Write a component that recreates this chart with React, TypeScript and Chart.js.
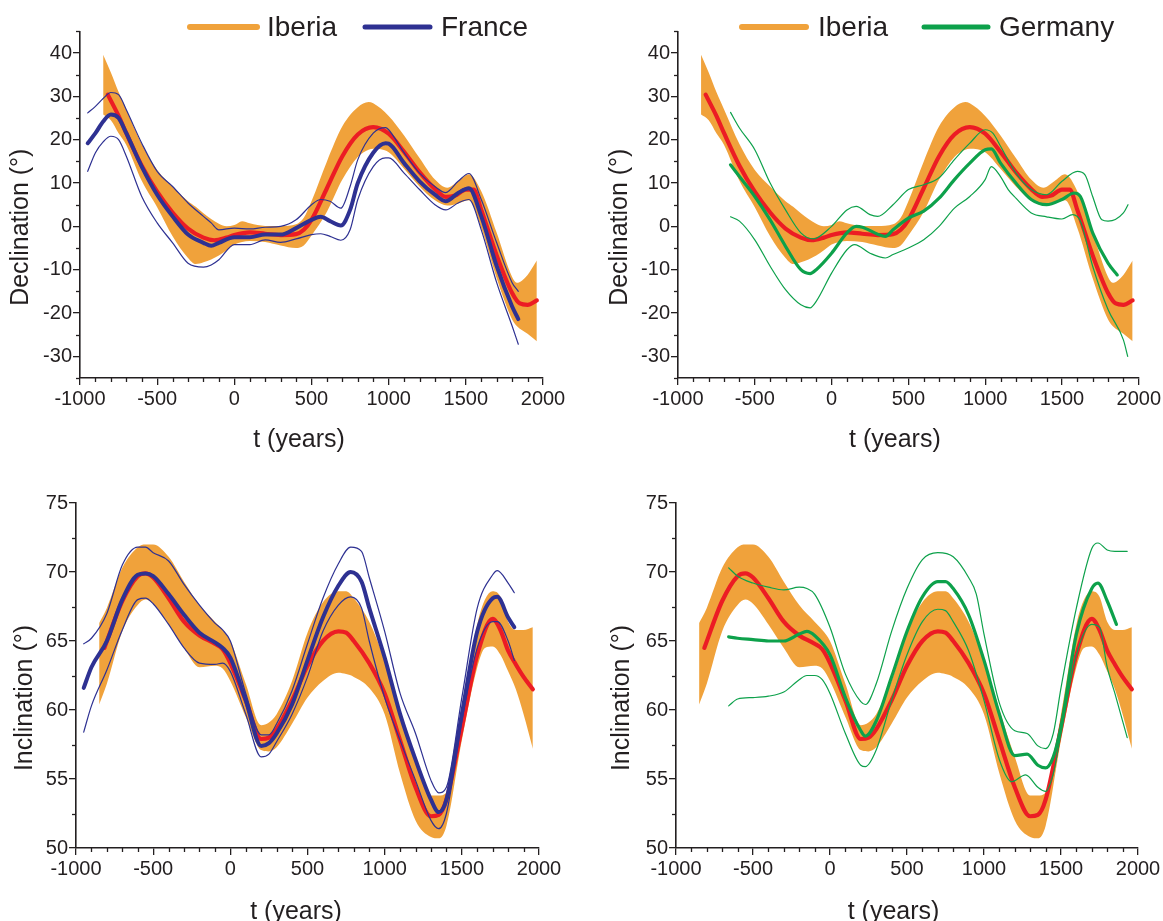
import React, { useEffect, useRef } from 'react';
import { Chart, registerables } from 'chart.js';

Chart.register(...registerables);

const ORANGE = '#F0A23B';
const RED = '#EC1C24';
const BLUE = '#2E3192';
const GREEN = '#0DA14B';
const INK = '#231F20';
const FONT = "'Liberation Sans', Arial, Helvetica, sans-serif";

// ---- tick labels ----
const YEAR_TICKS = [-1000, -500, 0, 500, 1000, 1500, 2000];
const DEC_TICKS = [-30, -20, -10, 0, 10, 20, 30, 40];
const INC_TICKS = [50, 55, 60, 65, 70, 75];

// ---- Iberia declination (band + mean) ----
const IBERIA_DEC_BAND_T = [-850, -800, -750, -700, -600, -500, -400, -300, -250, -200, -100, -50, 0, 50, 100, 200, 300, 400, 450, 500, 600, 700, 800, 870, 900, 1000, 1100, 1200, 1300, 1380, 1450, 1520, 1600, 1700, 1800, 1830, 1900, 1960];
const IBERIA_DEC_UPPER = [39.6, 35.5, 31, 27, 19, 13, 9.2, 5.8, 4.5, 3, 0.6, 0, 0.3, 1.2, 0.7, 0.1, 0.1, 0.5, 2, 5.8, 15, 23.1, 27.5, 28.7, 28.4, 25.5, 21, 15.8, 10.8, 8.9, 10.4, 12, 8.1, -1.5, -11.7, -13, -11.2, -7.9];
const IBERIA_DEC_LOWER = [25.8, 24.5, 21.5, 18.8, 10.5, 4.4, -2.3, -7.3, -8.7, -8.3, -6.7, -5.5, -4.2, -3.6, -3.4, -3.6, -4.4, -5, -4.4, -2.1, 3.4, 10.8, 16, 17.7, 17.9, 17.1, 13.3, 9.2, 6, 4.8, 5.3, 6, -0.4, -12, -21.5, -23, -24.8, -26.5];
const IBERIA_DEC_T = [-820, -750, -700, -600, -500, -400, -300, -200, -130, -50, 0, 100, 200, 300, 400, 450, 500, 600, 700, 800, 900, 1000, 1100, 1200, 1300, 1370, 1430, 1500, 1550, 1600, 1700, 1800, 1850, 1900, 1960];
const IBERIA_DEC = [30.4, 25.5, 21.5, 14, 8, 3.2, -0.5, -2.6, -3.2, -2.6, -2, -1.4, -1.7, -2, -1.8, -0.8, 1.5, 8.8, 16.2, 21.2, 22.9, 21.4, 17.2, 12.5, 8.6, 6.8, 7.1, 8.5, 8.5, 3.8, -6.7, -15.4, -17.8, -18.1, -17.1];

// ---- France declination ----
const FRANCE_DEC_T = [-950, -900, -850, -800, -750, -700, -600, -500, -400, -300, -200, -150, -100, 0, 100, 200, 300, 400, 500, 560, 620, 690, 750, 800, 900, 980, 1000, 1100, 1200, 1300, 1370, 1450, 1520, 1600, 1700, 1800, 1840];
const FRANCE_DEC = [19.2, 21.5, 24.2, 25.8, 25, 21.5, 13.8, 7.3, 2.3, -1.9, -3.8, -4.5, -3.8, -2.5, -2.5, -1.9, -1.9, -0.4, 1.5, 2.2, 1.2, 0.2, 3.8, 10, 17, 19.2, 19.1, 14.6, 10.4, 7.3, 5.8, 7.7, 8.8, 2.3, -9.2, -18.5, -21.4];
const FRANCE_DEC_UPPER = [26.2, 27.7, 29.5, 30.9, 30.4, 26.9, 19.2, 12.7, 9.2, 5.4, 2.3, 0.8, -0.8, -0.4, -0.6, -0.2, 0, 1.5, 5, 6.2, 5.8, 4.2, 9.2, 15.4, 21.5, 22.8, 22.3, 17, 12.3, 9.2, 7.8, 10.4, 12.2, 6.2, -3.8, -13, -15];
const FRANCE_DEC_LOWER = [12.7, 17, 19.5, 20.8, 20, 16.2, 6.9, 0.8, -3.8, -8.5, -9.4, -8.9, -7.7, -4.2, -4.2, -3.1, -3.7, -2.9, -1.9, -1.7, -2.3, -3.2, -0.8, 6.2, 13.8, 15.8, 15.8, 12.3, 8.5, 5, 3.8, 5.4, 6.2, -0.8, -13, -23, -27.2];

// ---- Germany declination ----
const GERMANY_DEC_T = [-658, -600, -500, -400, -300, -200, -140, -100, 0, 100, 160, 200, 300, 350, 400, 500, 600, 700, 800, 900, 1000, 1040, 1100, 1200, 1300, 1400, 1500, 1580, 1620, 1700, 1800, 1860];
const GERMANY_DEC = [14.2, 11.5, 6.9, 1.5, -4.6, -10, -10.9, -10, -6.2, -1.5, 0, -0.2, -1.8, -2.3, -0.8, 1.9, 3.5, 6.5, 10.8, 14.6, 17.7, 17.9, 14.6, 10, 6.2, 5, 6.2, 7.7, 6.9, -1.5, -8.5, -11.2];
const GERMANY_DEC_UP_T = [-658, -600, -500, -400, -300, -200, -120, 0, 100, 160, 250, 300, 400, 500, 600, 700, 800, 900, 1000, 1050, 1100, 1200, 1300, 1400, 1500, 1600, 1650, 1700, 1760, 1800, 1900, 1930];
const GERMANY_DEC_UPPER = [26.3, 22.7, 17.7, 10, 3.8, -1.5, -2.9, 0, 3.8, 4.6, 2.7, 2.3, 5, 8.5, 9.6, 11.2, 15.4, 19.2, 22.3, 21.5, 18.5, 12.3, 8.5, 7.3, 10.4, 12.7, 11.9, 6.9, 1.5, 1.2, 3.1, 5];
const GERMANY_DEC_LO_T = [-658, -600, -500, -400, -300, -200, -140, -100, 0, 100, 150, 250, 350, 400, 500, 600, 700, 800, 900, 1000, 1040, 1100, 1150, 1200, 1300, 1400, 1500, 1570, 1620, 1700, 1800, 1900, 1928];
const GERMANY_DEC_LOWER = [2.2, 1.2, -3.1, -9.2, -14.6, -18.1, -18.8, -17.3, -10.8, -5.4, -4.2, -6.2, -7.3, -6.5, -5, -3.1, 0, 4.2, 6.9, 10.8, 13.8, 11.5, 8.5, 6.5, 3.1, 2.2, 1.7, 2.7, 1.2, -9.2, -19.2, -26.2, -30];

// ---- Iberia inclination (band + mean) ----
const IBERIA_INC_BAND_T = [-850, -800, -700, -600, -550, -500, -400, -300, -200, -100, -50, 0, 100, 200, 250, 300, 400, 500, 600, 700, 750, 800, 900, 1000, 1100, 1200, 1300, 1350, 1400, 1500, 1600, 1650, 1700, 1750, 1800, 1850, 1900, 1960];
const IBERIA_INC_UPPER = [66.3, 67.4, 70.3, 71.8, 72, 72, 71.1, 69.3, 67.6, 66.4, 65.8, 65, 61.9, 58.9, 59.1, 59.7, 62.1, 65.6, 67.8, 68.6, 68.6, 68.1, 66.4, 63.6, 60, 56.6, 53.8, 53.8, 54, 59.7, 66.2, 68, 68.6, 68.2, 66.4, 65.8, 65.8, 66];
const IBERIA_INC_LOWER = [60.4, 61.9, 65.7, 67.6, 68, 67.7, 66.2, 64.5, 63.1, 63.2, 63, 62.1, 59.5, 57.1, 57, 57.3, 59, 60.9, 62.1, 62.7, 62.6, 62.4, 61.6, 59.7, 55.4, 52, 50.8, 50.7, 51.6, 57.8, 63.1, 64.5, 64.6, 64, 62.8, 61.5, 59.7, 57.2];
const IBERIA_INC_T = [-816, -700, -600, -550, -500, -400, -300, -200, -100, -50, 0, 100, 200, 250, 300, 400, 500, 600, 700, 750, 800, 900, 1000, 1100, 1200, 1300, 1350, 1400, 1500, 1600, 1700, 1750, 1800, 1850, 1900, 1960];
const IBERIA_INC = [64.5, 67.9, 69.7, 69.9, 69.6, 68.1, 66.4, 65.4, 64.8, 64.4, 63.4, 60.7, 57.9, 58, 58.6, 60.7, 63.2, 65, 65.7, 65.6, 65, 63.4, 61.2, 57.8, 54.4, 52.3, 52.4, 53.5, 58.7, 64, 66.6, 65.8, 64.3, 63.3, 62.4, 61.5];

// ---- France inclination ----
const FRANCE_INC_T = [-950, -900, -800, -700, -600, -550, -500, -400, -300, -200, -100, -50, 0, 100, 200, 250, 300, 400, 500, 600, 700, 780, 850, 900, 1000, 1100, 1200, 1300, 1350, 1400, 1500, 1600, 1700, 1730, 1800, 1840];
const FRANCE_INC = [61.6, 63.1, 65, 68, 69.8, 69.9, 69.7, 68.4, 66.9, 65.6, 64.9, 64.5, 63.8, 60.7, 57.4, 57.6, 58.3, 60.4, 63.6, 66.7, 69, 70, 69.3, 67.4, 63.8, 59.7, 56.4, 53.5, 52.6, 53.5, 59.7, 65.7, 68.1, 68.2, 66.7, 66];
const FRANCE_INC_UPPER = [64.8, 65.2, 67, 70.5, 71.8, 71.8, 71.4, 70.8, 69.1, 67.6, 66.3, 65.8, 65, 61.2, 58.2, 58.2, 59, 61.4, 64.8, 68.1, 70.6, 71.8, 71.5, 69.6, 65.7, 61.2, 58.3, 54.9, 54, 54.4, 60.9, 67.4, 69.8, 70.1, 69.2, 68.5];
const FRANCE_INC_LOWER = [58.4, 60.3, 62.9, 65.8, 68, 68.1, 67.7, 66.2, 64.5, 63.4, 63.3, 63.4, 62.8, 59.7, 56.6, 56.8, 57.7, 59.7, 62.4, 65.7, 67.6, 68.2, 67.4, 65, 60.9, 57.8, 54.9, 52, 51.4, 52.5, 59.2, 64.5, 66.4, 66.4, 65, 63.6];

// ---- Germany inclination ----
const GERMANY_INC_T = [-658, -600, -500, -400, -300, -200, -150, -100, 0, 100, 200, 230, 300, 400, 500, 600, 700, 750, 800, 900, 1000, 1100, 1200, 1280, 1350, 1400, 1450, 1500, 1600, 1700, 1740, 1800, 1860];
const GERMANY_INC = [65.3, 65.2, 65.1, 65, 65, 65.5, 65.7, 65.4, 64, 60.9, 58.5, 58.1, 59.2, 62.4, 65.7, 68.2, 69.3, 69.3, 68.8, 66.9, 63.6, 59.7, 56.7, 56.8, 56, 55.8, 56.6, 58.8, 65.5, 68.8, 69.2, 67.9, 66.2];
const GERMANY_INC_UP_T = [-658, -600, -500, -400, -300, -200, -150, -100, 0, 100, 200, 230, 300, 400, 500, 600, 700, 800, 900, 950, 1000, 1100, 1200, 1280, 1350, 1400, 1450, 1500, 1600, 1700, 1740, 1800, 1850, 1930];
const GERMANY_INC_UPPER = [70.3, 69.7, 69.2, 68.9, 68.7, 68.9, 68.8, 68.4, 66, 62.6, 60.6, 60.4, 61.9, 65.7, 68.8, 70.9, 71.4, 71.1, 69.6, 68.4, 65.5, 60.5, 58.5, 58.3, 57.4, 57.2, 58.3, 61.6, 67.4, 71.7, 72.1, 71.6, 71.5, 71.5];
const GERMANY_INC_LO_T = [-658, -600, -500, -400, -300, -200, -150, -100, -50, 0, 100, 200, 230, 300, 400, 500, 600, 700, 750, 800, 900, 1000, 1100, 1180, 1270, 1350, 1400, 1450, 1500, 1600, 1700, 1750, 1800, 1850, 1930];
const GERMANY_INC_LOWER = [60.3, 60.8, 60.9, 61, 61.3, 62.2, 62.5, 62.5, 62.2, 61.2, 58.3, 56, 55.9, 57.1, 60.7, 64, 66.4, 67.3, 67.2, 66.4, 64.3, 60.7, 56.4, 54.8, 55.3, 54.4, 54.1, 55.4, 58.3, 64, 66.2, 66, 63.1, 61.2, 58];

const pts = (t: number[], v: number[]) => t.map((x, i) => ({ x, y: v[i] }));

interface LegendItem { label: string; color: string; x0: number; x1: number; tx: number; lw: number }
interface PanelSpec {
  left: number; top: number; w: number; h: number;
  yMin: number; yMax: number; yTicks: number[]; yMinor: number; yTitle: string;
  yAxisWidth: number; padRight: number; padTop: number; xAxisHeight: number;
  yTitleDX: number; yTitleDY: number; xTitleDX: number; xTitleY: number;
  legendY: number; legend: LegendItem[];
  band: { t: number[]; up: number[]; lo: number[] };
  mean: { t: number[]; v: number[] };
  other: { color: string; thick: number; mt: number[]; mv: number[]; ut: number[]; uv: number[]; lt: number[]; lv: number[] };
}

const PANELS: PanelSpec[] = [
  {
    left: 0, top: 0, w: 581, h: 460,
    yMin: -35, yMax: 45, yTicks: DEC_TICKS, yMinor: 5, yTitle: 'Declination (°)',
    yAxisWidth: 80, padRight: 38, padTop: 31.4, xAxisHeight: 82,
    yTitleDX: -59, yTitleDY: 22.5, xTitleDX: -12.5, xTitleY: 440,
    legendY: 27,
    legend: [
      { label: 'Iberia', color: ORANGE, x0: 190, x1: 257, tx: 267, lw: 6 },
      { label: 'France', color: BLUE, x0: 365, x1: 430, tx: 441, lw: 5 },
    ],
    band: { t: IBERIA_DEC_BAND_T, up: IBERIA_DEC_UPPER, lo: IBERIA_DEC_LOWER },
    mean: { t: IBERIA_DEC_T, v: IBERIA_DEC },
    other: { color: BLUE, thick: 4, mt: FRANCE_DEC_T, mv: FRANCE_DEC, ut: FRANCE_DEC_T, uv: FRANCE_DEC_UPPER, lt: FRANCE_DEC_T, lv: FRANCE_DEC_LOWER },
  },
  {
    left: 581, top: 0, w: 582, h: 460,
    yMin: -35, yMax: 45, yTicks: DEC_TICKS, yMinor: 5, yTitle: 'Declination (°)',
    yAxisWidth: 97, padRight: 22, padTop: 31.4, xAxisHeight: 82,
    yTitleDX: -58, yTitleDY: 22.5, xTitleDX: -13.5, xTitleY: 440,
    legendY: 27,
    legend: [
      { label: 'Iberia', color: ORANGE, x0: 161, x1: 225, tx: 237, lw: 6 },
      { label: 'Germany', color: GREEN, x0: 343, x1: 407, tx: 418, lw: 5 },
    ],
    band: { t: IBERIA_DEC_BAND_T, up: IBERIA_DEC_UPPER, lo: IBERIA_DEC_LOWER },
    mean: { t: IBERIA_DEC_T, v: IBERIA_DEC },
    other: { color: GREEN, thick: 3.2, mt: GERMANY_DEC_T, mv: GERMANY_DEC, ut: GERMANY_DEC_UP_T, uv: GERMANY_DEC_UPPER, lt: GERMANY_DEC_LO_T, lv: GERMANY_DEC_LOWER },
  },
  {
    left: 0, top: 460, w: 581, h: 466,
    yMin: 50, yMax: 75, yTicks: INC_TICKS, yMinor: 2.5, yTitle: 'Inclination (°)',
    yAxisWidth: 76, padRight: 42, padTop: 43, xAxisHeight: 78,
    yTitleDX: -51, yTitleDY: 22.5, xTitleDX: -11.5, xTitleY: 452,
    legendY: 0, legend: [],
    band: { t: IBERIA_INC_BAND_T, up: IBERIA_INC_UPPER, lo: IBERIA_INC_LOWER },
    mean: { t: IBERIA_INC_T, v: IBERIA_INC },
    other: { color: BLUE, thick: 4, mt: FRANCE_INC_T, mv: FRANCE_INC, ut: FRANCE_INC_T, uv: FRANCE_INC_UPPER, lt: FRANCE_INC_T, lv: FRANCE_INC_LOWER },
  },
  {
    left: 581, top: 460, w: 582, h: 466,
    yMin: 50, yMax: 75, yTicks: INC_TICKS, yMinor: 2.5, yTitle: 'Inclination (°)',
    yAxisWidth: 95, padRight: 25, padTop: 43, xAxisHeight: 78,
    yTitleDX: -53.5, yTitleDY: 22.5, xTitleDX: -13.5, xTitleY: 452,
    legendY: 0, legend: [],
    band: { t: IBERIA_INC_BAND_T, up: IBERIA_INC_UPPER, lo: IBERIA_INC_LOWER },
    mean: { t: IBERIA_INC_T, v: IBERIA_INC },
    other: { color: GREEN, thick: 3.2, mt: GERMANY_INC_T, mv: GERMANY_INC, ut: GERMANY_INC_UP_T, uv: GERMANY_INC_UPPER, lt: GERMANY_INC_LO_T, lv: GERMANY_INC_LOWER },
  },
];

const decorPlugin = {
  id: 'decor',
  afterDraw(chart: any, _args: any, opts: any) {
    const { ctx, chartArea: ca, scales } = chart;
    const x = scales.x;
    const y = scales.y;
    ctx.save();
    ctx.strokeStyle = INK;
    ctx.lineWidth = 1.3;
    // minor ticks on x
    const xs = 100;
    for (let i = 0; ; i++) {
      const v = x.min + i * xs;
      if (v > x.max + 1e-6) break;
      if (YEAR_TICKS.includes(v)) continue;
      const px = Math.round(x.getPixelForValue(v)) + 0.5;
      ctx.beginPath();
      ctx.moveTo(px, ca.bottom);
      ctx.lineTo(px, ca.bottom + 4);
      ctx.stroke();
    }
    // minor ticks on y
    for (let i = 0; ; i++) {
      const v = y.min + i * opts.yMinor;
      if (v > y.max + 1e-6) break;
      if (opts.yTicks.includes(v)) continue;
      const py = Math.round(y.getPixelForValue(v)) + 0.5;
      ctx.beginPath();
      ctx.moveTo(ca.left - 4, py);
      ctx.lineTo(ca.left, py);
      ctx.stroke();
    }
    // axis titles
    ctx.fillStyle = INK;
    ctx.font = `25px ${FONT}`;
    ctx.textAlign = 'center';
    ctx.textBaseline = 'middle';
    ctx.fillText('t (years)', (ca.left + ca.right) / 2 + opts.xTitleDX, opts.xTitleY);
    ctx.save();
    ctx.translate(ca.left + opts.yTitleDX, (ca.top + ca.bottom) / 2 + opts.yTitleDY);
    ctx.rotate(-Math.PI / 2);
    ctx.fillText(opts.yTitle, 0, 0);
    ctx.restore();
    // legend
    ctx.font = `28px ${FONT}`;
    ctx.textAlign = 'left';
    ctx.lineCap = 'round';
    for (const it of opts.legend as LegendItem[]) {
      ctx.strokeStyle = it.color;
      ctx.lineWidth = it.lw;
      ctx.beginPath();
      ctx.moveTo(it.x0, opts.legendY);
      ctx.lineTo(it.x1, opts.legendY);
      ctx.stroke();
      ctx.fillStyle = INK;
      ctx.fillText(it.label, it.tx, opts.legendY + 1);
    }
    ctx.restore();
  },
};

function buildConfig(s: PanelSpec): any {
  const thin = (data: any[], color: string, order: number) => ({
    data, borderColor: color, borderWidth: 1.2, pointRadius: 0, fill: false, order,
  });
  const tickFont = { family: FONT, size: 20 };
  const axisCommon = {
    type: 'linear',
    grid: { drawOnChartArea: false, drawTicks: true, tickLength: 7, color: INK, lineWidth: 1.3 },
    border: { display: true, color: INK, width: 1.6 },
  };
  return {
    type: 'line',
    data: {
      datasets: [
        { data: pts(s.band.t, s.band.up), borderColor: 'rgba(0,0,0,0)', borderWidth: 0, backgroundColor: ORANGE, fill: '+1', pointRadius: 0, order: 10 },
        { data: pts(s.band.t, s.band.lo), borderColor: 'rgba(0,0,0,0)', borderWidth: 0, fill: false, pointRadius: 0, order: 10 },
        { data: pts(s.mean.t, s.mean.v), borderColor: RED, borderWidth: 4.2, pointRadius: 0, fill: false, order: 5 },
        thin(pts(s.other.ut, s.other.uv), s.other.color, 2),
        thin(pts(s.other.lt, s.other.lv), s.other.color, 2),
        { data: pts(s.other.mt, s.other.mv), borderColor: s.other.color, borderWidth: s.other.thick, pointRadius: 0, fill: false, order: 1 },
      ],
    },
    options: {
      animation: false,
      responsive: false,
      maintainAspectRatio: false,
      devicePixelRatio: 1,
      events: [],
      layout: { padding: { left: 0, right: s.padRight, top: s.padTop, bottom: 0 } },
      elements: {
        point: { radius: 0 },
        line: { cubicInterpolationMode: 'monotone', borderCapStyle: 'round', borderJoinStyle: 'round' },
      },
      plugins: {
        legend: { display: false },
        tooltip: { enabled: false },
        decor: {
          yMinor: s.yMinor, yTicks: s.yTicks, yTitle: s.yTitle,
          yTitleDX: s.yTitleDX, yTitleDY: s.yTitleDY, xTitleDX: s.xTitleDX, xTitleY: s.xTitleY,
          legend: s.legend, legendY: s.legendY,
        },
      },
      scales: {
        x: {
          ...axisCommon,
          min: -1000, max: 2000,
          afterBuildTicks: (sc: any) => { sc.ticks = YEAR_TICKS.map((value) => ({ value })); },
          afterFit: (sc: any) => { sc.height = s.xAxisHeight; },
          ticks: { font: tickFont, color: INK, padding: 2, maxRotation: 0, minRotation: 0, autoSkip: false, callback: (v: any) => String(v) },
        },
        y: {
          ...axisCommon,
          min: s.yMin, max: s.yMax,
          afterBuildTicks: (sc: any) => { sc.ticks = s.yTicks.map((value) => ({ value })); },
          afterFit: (sc: any) => { sc.width = s.yAxisWidth; },
          ticks: { font: tickFont, color: INK, padding: 1, autoSkip: false, callback: (v: any) => String(v) },
        },
      },
    },
    plugins: [decorPlugin],
  };
}

function Panel({ spec }: { spec: PanelSpec }) {
  const ref = useRef<HTMLCanvasElement>(null);
  useEffect(() => {
    const chart = new Chart(ref.current as HTMLCanvasElement, buildConfig(spec));
    return () => chart.destroy();
  }, [spec]);
  return (
    <canvas
      ref={ref}
      width={spec.w}
      height={spec.h}
      style={{ position: 'absolute', left: spec.left, top: spec.top, width: spec.w, height: spec.h }}
    />
  );
}

export default function App() {
  return (
    <div style={{ position: 'absolute', left: 0, top: 0, width: 1163, height: 921, overflow: 'hidden', background: '#fff' }}>
      {PANELS.map((p, i) => <Panel key={i} spec={p} />)}
    </div>
  );
}
